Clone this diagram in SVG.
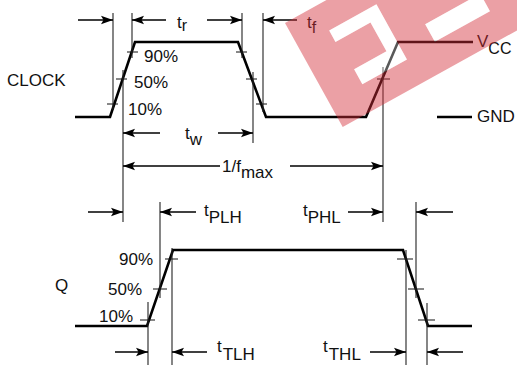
<svg xmlns="http://www.w3.org/2000/svg" width="517" height="365" viewBox="0 0 517 365">
<style>
text{font-family:"Liberation Sans",Arial,sans-serif;font-size:17px;fill:#111}
.wave{fill:none;stroke:#000;stroke-width:2.6;stroke-linejoin:miter}
.tick{stroke:#111;stroke-width:1}
.ext{stroke:#222;stroke-width:1.1}
.dim{stroke:#000;stroke-width:1.3;fill:none;marker-end:url(#ah)}
.sub{font-size:16px}
</style>
<defs>
<marker id="ah" viewBox="0 0 12 10" refX="12" refY="5" markerWidth="12" markerHeight="10" markerUnits="userSpaceOnUse" orient="auto">
<path d="M0,0.8 L12,5 L0,9.2 L2.5,5 z" fill="#000"/>
</marker>
</defs>
<rect width="517" height="365" fill="#fff"/>

<g id="clock">
<polyline class="wave" points="75,117 110,117 135,42 238,42 266,117 366,117 398,42 473,42"/>
<line class="tick" x1="127" y1="52" x2="138" y2="52"/>
<line class="tick" x1="116" y1="79" x2="127" y2="79"/>
<line class="tick" x1="107" y1="104" x2="118" y2="104"/>
<line class="tick" x1="236" y1="52" x2="247" y2="52"/>
<line class="tick" x1="246" y1="79" x2="257" y2="79"/>
<line class="tick" x1="256" y1="104" x2="267" y2="104"/>
<line class="tick" x1="377" y1="79" x2="390" y2="79"/>
<text x="7" y="86">CLOCK</text>
<text x="144" y="62">90%</text>
<text x="134" y="88">50%</text>
<text x="128" y="115">10%</text>
<text x="477" y="47">V<tspan class="sub" dy="7">CC</tspan></text>
</g>

<g id="gnd">
<line x1="437" y1="117" x2="472" y2="117" stroke="#000" stroke-width="2.4"/>
<text x="477" y="122">GND</text>
</g>

<g id="q">
<polyline class="wave" points="75,326 147,326 173,250 403,250 428,326 472,326"/>
<line class="tick" x1="165" y1="259" x2="178" y2="259"/>
<line class="tick" x1="153" y1="289" x2="167" y2="289"/>
<line class="tick" x1="140" y1="320" x2="155" y2="320"/>
<line class="tick" x1="397" y1="259" x2="413" y2="259"/>
<line class="tick" x1="408" y1="289" x2="424" y2="289"/>
<line class="tick" x1="418" y1="320" x2="435" y2="320"/>
<text x="55" y="291">Q</text>
<text x="119" y="265">90%</text>
<text x="108" y="295">50%</text>
<text x="99" y="322">10%</text>
</g>

<g id="connectors">
<line class="ext" x1="113" y1="13" x2="113" y2="110"/>
<line class="ext" x1="132" y1="13" x2="132" y2="58"/>
<line class="ext" x1="123" y1="70" x2="123" y2="222"/>
<line class="ext" x1="242" y1="13" x2="242" y2="58"/>
<line class="ext" x1="253" y1="72" x2="253" y2="143"/>
<line class="ext" x1="263" y1="13" x2="263" y2="112"/>
<line class="ext" x1="383" y1="67" x2="383" y2="222"/>
<line class="ext" x1="148" y1="302" x2="148" y2="365"/>
<line class="ext" x1="160" y1="202" x2="160" y2="298"/>
<line class="ext" x1="172" y1="248" x2="172" y2="365"/>
<line class="ext" x1="406" y1="250" x2="406" y2="365"/>
<line class="ext" x1="416" y1="202" x2="416" y2="298"/>
<line class="ext" x1="427" y1="303" x2="427" y2="365"/>

<line class="dim" x1="78" y1="20" x2="113" y2="20"/>
<line class="dim" x1="166" y1="20" x2="132" y2="20"/>
<line class="dim" x1="207" y1="20" x2="242" y2="20"/>
<line class="dim" x1="297" y1="20" x2="263" y2="20"/>

<line class="dim" x1="160" y1="133" x2="123" y2="133"/>
<line class="dim" x1="218" y1="133" x2="253" y2="133"/>
<line class="dim" x1="220" y1="166" x2="123" y2="166"/>
<line class="dim" x1="290" y1="166" x2="383" y2="166"/>

<line class="dim" x1="88" y1="212" x2="123" y2="212"/>
<line class="dim" x1="196" y1="212" x2="160" y2="212"/>
<line class="dim" x1="348" y1="212" x2="383" y2="212"/>
<line class="dim" x1="453" y1="212" x2="416" y2="212"/>

<line class="dim" x1="115" y1="352" x2="148" y2="352"/>
<line class="dim" x1="207" y1="352" x2="172" y2="352"/>
<line class="dim" x1="370" y1="352" x2="406" y2="352"/>
<line class="dim" x1="463" y1="352" x2="427" y2="352"/>
</g>

<g id="labels">
<text x="177" y="28">t<tspan class="sub" dy="3">r</tspan></text>
<text x="307" y="28">t<tspan class="sub" dy="5">f</tspan></text>
<text x="185" y="139">t<tspan dy="6">w</tspan></text>
<text x="222" y="172">1/f<tspan dy="6">max</tspan></text>
<text x="204" y="216" font-size="15">t<tspan font-size="17" dy="7">PLH</tspan></text>
<text x="303" y="216" font-size="15">t<tspan font-size="17" dy="7">PHL</tspan></text>
<text x="217" y="352" font-size="15">t<tspan font-size="17" dx="1" dy="8">TLH</tspan></text>
<text x="323" y="352" font-size="15">t<tspan font-size="17" dx="1" dy="8">THL</tspan></text>
</g>

<g id="watermark" transform="translate(285,23) rotate(-29)">
<path fill="rgb(211,44,56)" fill-opacity="0.45" fill-rule="evenodd" d="M0,0 H420 V119 H0 Z M35,28 H89 V91 H38 V74 H75 V41 H35 Z M122,69 H185 V89 H122 Z"/>
<path fill="#fff" fill-opacity="0.35" d="M35,28 H89 V91 H38 V74 H75 V41 H35 Z M122,69 H185 V89 H122 Z"/>
</g>
</svg>
